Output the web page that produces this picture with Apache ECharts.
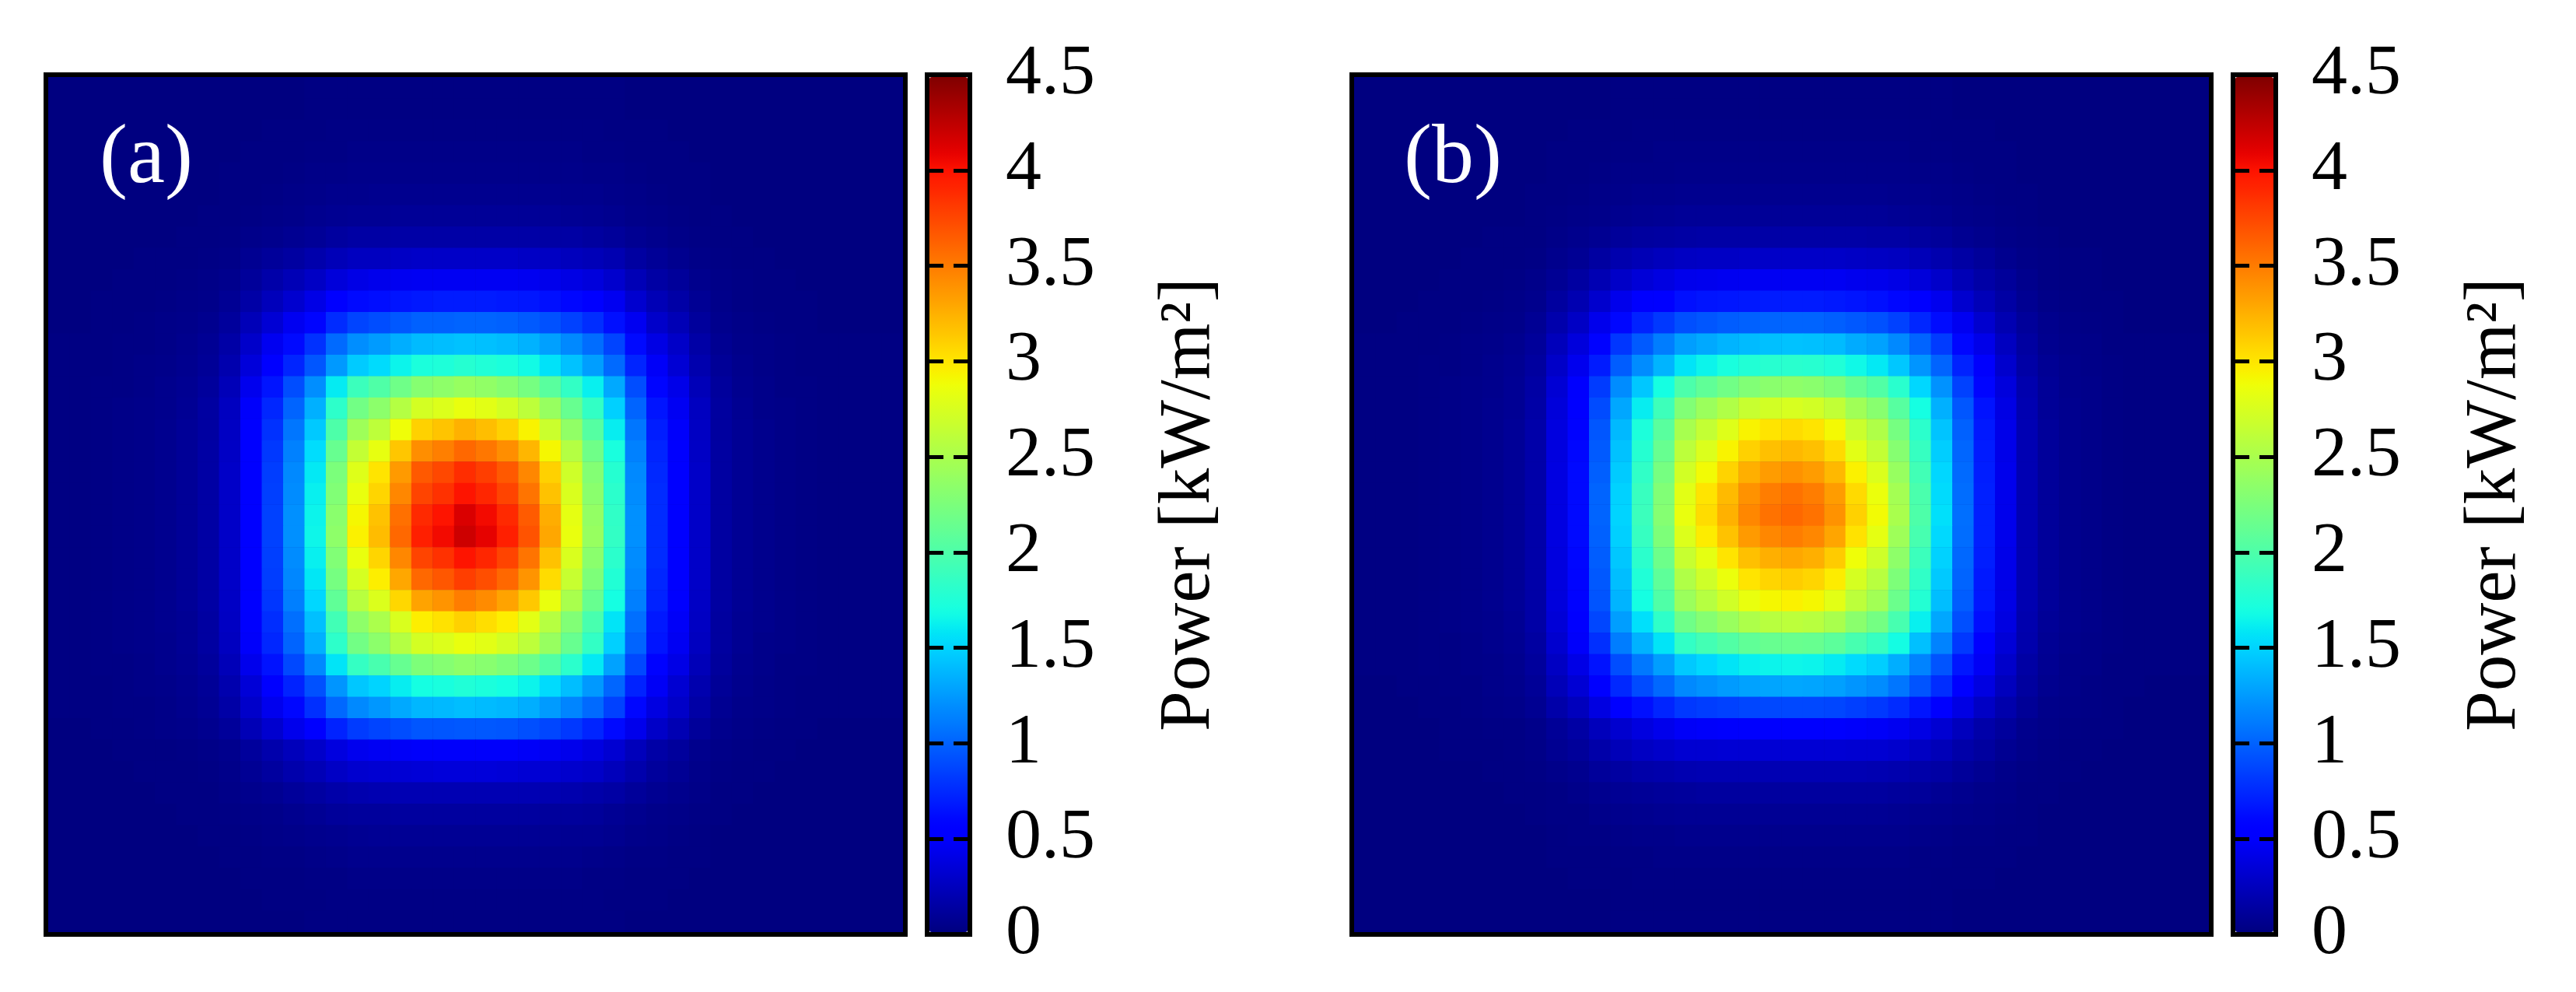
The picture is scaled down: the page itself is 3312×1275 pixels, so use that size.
<!DOCTYPE html>
<html><head><meta charset="utf-8">
<style>html,body{margin:0;padding:0;background:#fff}#c{width:3312px;height:1275px}</style>
<script src="https://cdn.jsdelivr.net/npm/echarts@6/dist/echarts.min.js"></script>
</head><body><div id="c"></div>
<script>
// Power, in hundredths of kW/m2; rows run top to bottom, columns left to right.
const powerA = [
[0,0,0,0,0,0,0,0,0,0,0,0,1,1,1,1,1,1,1,1,1,1,1,1,1,1,1,0,0,0,0,0,0,0,0,0,0,0,0,0],
[0,0,0,0,0,0,0,0,0,0,0,0,1,1,1,1,1,1,1,1,1,1,1,1,1,1,1,0,0,0,0,0,0,0,0,0,0,0,0,0],
[0,0,0,0,0,0,0,0,0,0,1,1,1,2,2,2,2,2,2,2,2,2,2,2,2,2,1,1,1,0,0,0,0,0,0,0,0,0,0,0],
[0,0,0,0,0,0,0,0,0,1,1,1,2,2,3,3,3,3,3,3,3,3,3,3,3,2,2,1,1,1,0,0,0,0,0,0,0,0,0,0],
[0,0,0,0,0,0,0,0,1,1,1,2,3,3,4,4,4,4,4,4,4,4,4,4,4,3,3,2,1,1,1,0,0,0,0,0,0,0,0,0],
[0,0,0,0,0,0,0,0,1,1,2,3,4,5,5,6,6,6,6,6,6,6,6,6,5,5,4,3,2,1,1,0,0,0,0,0,0,0,0,0],
[0,0,0,0,0,0,0,1,1,2,3,4,6,7,8,8,9,9,9,9,9,9,9,9,8,7,6,4,3,2,1,1,0,0,0,0,0,0,0,0],
[0,0,0,0,0,0,1,1,2,4,5,7,9,12,14,14,15,15,15,15,15,15,15,14,14,12,10,7,5,3,2,1,1,0,0,0,0,0,0,0],
[0,0,0,0,1,1,1,2,3,7,10,13,17,22,25,25,27,28,28,28,28,28,27,26,24,22,19,13,9,6,3,2,1,1,0,0,0,0,0,0],
[0,0,0,1,1,1,2,3,5,10,16,21,27,35,40,42,44,45,45,45,45,45,44,42,39,36,30,21,14,10,5,3,2,1,1,0,0,0,0,0],
[0,0,1,1,1,2,3,4,8,15,23,31,40,52,60,62,65,67,68,68,68,67,66,63,59,53,44,31,21,15,8,4,2,1,1,1,0,0,0,0],
[0,0,1,1,2,3,4,6,11,22,33,44,58,75,86,90,95,99,99,100,100,99,96,92,85,76,63,44,29,21,11,5,3,2,1,1,0,0,0,0],
[1,1,1,2,2,3,5,8,15,29,44,60,78,103,119,125,133,139,140,142,141,139,135,127,117,104,86,60,39,28,15,7,4,3,2,1,1,1,1,1],
[1,1,1,2,3,4,6,9,18,35,52,72,94,124,146,153,164,172,174,178,175,172,167,156,142,126,103,72,47,33,18,9,5,3,2,1,1,1,1,1],
[1,1,2,2,3,5,7,11,22,43,65,90,119,160,190,201,218,231,235,240,237,231,222,206,185,162,131,90,58,41,22,11,6,4,2,2,1,1,1,1],
[1,1,2,3,4,5,8,13,25,48,73,100,134,182,220,234,256,273,278,285,281,273,261,240,214,185,148,100,65,45,25,12,7,4,3,2,1,1,1,1],
[1,1,2,3,4,6,9,13,26,51,78,108,145,200,244,261,288,310,316,325,319,310,294,268,237,204,161,108,69,48,26,12,8,5,3,2,1,1,1,1],
[1,1,2,3,4,6,9,14,27,53,81,113,154,214,264,284,315,342,349,360,353,342,323,292,256,218,171,113,72,50,27,13,8,5,3,2,1,1,1,1],
[1,1,2,3,4,6,9,14,28,54,83,117,159,225,279,301,336,367,375,388,380,367,345,310,270,229,178,117,74,51,28,13,8,5,3,2,1,1,1,1],
[1,1,2,3,4,6,9,14,28,55,84,118,162,228,285,308,345,377,386,400,391,377,354,317,276,233,181,118,75,52,28,13,8,5,3,2,1,1,1,1],
[1,1,2,3,4,6,9,14,28,55,85,120,164,233,292,317,356,390,400,415,405,390,366,327,283,238,184,120,75,52,28,13,8,5,3,2,1,1,1,1],
[1,1,2,3,4,6,9,14,28,55,85,120,165,235,295,320,360,395,405,420,410,395,370,330,285,240,185,120,75,52,28,13,8,5,3,2,1,1,1,1],
[1,1,2,3,4,6,9,14,28,55,84,118,162,228,285,308,345,377,386,400,391,377,354,317,276,233,181,118,75,52,28,13,8,5,3,2,1,1,1,1],
[1,1,2,3,4,6,9,14,28,54,83,116,158,222,274,296,330,360,368,380,372,360,339,305,266,226,176,116,73,51,28,13,8,5,3,2,1,1,1,1],
[1,1,2,3,4,6,9,14,27,52,80,112,151,210,258,277,307,332,339,350,343,332,314,285,250,214,169,112,71,50,27,13,8,5,3,2,1,1,1,1],
[1,1,2,3,4,6,8,13,26,50,76,105,141,193,235,251,276,296,302,310,304,296,282,257,228,197,157,105,67,47,26,12,7,5,3,2,1,1,1,1],
[1,1,2,3,4,5,8,13,25,48,73,100,134,182,220,234,256,273,278,285,281,273,261,240,214,185,148,100,65,45,25,12,7,4,3,2,1,1,1,1],
[1,1,2,2,3,5,7,11,22,42,64,88,117,157,186,197,213,226,230,235,232,226,217,202,181,159,128,88,57,40,22,11,6,4,2,2,1,1,1,1],
[1,1,1,2,3,4,6,9,18,34,51,71,92,122,144,150,161,169,171,175,172,169,164,153,140,124,101,71,46,32,18,9,5,3,2,1,1,1,1,1],
[1,1,1,2,2,3,5,8,15,29,43,59,77,102,117,123,131,137,138,140,139,137,133,125,115,103,85,59,38,28,15,7,4,3,2,1,1,1,1,1],
[0,0,1,1,2,3,4,6,10,21,31,42,55,71,82,86,90,94,94,95,95,94,91,87,81,72,60,42,28,20,10,5,3,2,1,1,0,0,0,0],
[0,0,0,1,1,1,2,3,5,11,17,23,29,37,43,45,47,48,48,48,48,48,47,45,42,38,32,23,15,11,5,3,2,1,1,0,0,0,0,0],
[0,0,0,0,1,1,1,2,4,8,12,17,21,27,31,32,33,34,35,35,35,34,33,32,30,28,23,17,11,8,4,2,1,1,0,0,0,0,0,0],
[0,0,0,0,0,1,1,1,3,5,7,10,13,16,18,19,20,20,20,20,20,20,20,19,18,16,14,10,7,5,3,1,1,0,0,0,0,0,0,0],
[0,0,0,0,0,0,1,1,2,3,4,6,8,10,11,11,12,12,12,12,12,12,12,11,11,10,8,6,4,3,2,1,0,0,0,0,0,0,0,0],
[0,0,0,0,0,0,0,1,1,2,3,4,5,6,7,8,8,8,8,8,8,8,8,8,7,7,6,4,3,2,1,0,0,0,0,0,0,0,0,0],
[0,0,0,0,0,0,0,0,1,1,2,2,3,4,5,5,5,5,5,5,5,5,5,5,5,4,3,2,2,1,1,0,0,0,0,0,0,0,0,0],
[0,0,0,0,0,0,0,0,0,1,1,1,2,2,3,3,3,3,3,3,3,3,3,3,3,2,2,1,1,1,0,0,0,0,0,0,0,0,0,0],
[0,0,0,0,0,0,0,0,0,0,1,1,1,2,2,2,2,2,2,2,2,2,2,2,2,2,1,1,1,0,0,0,0,0,0,0,0,0,0,0],
[0,0,0,0,0,0,0,0,0,0,0,0,1,1,1,1,1,1,1,1,1,1,1,1,1,1,1,0,0,0,0,0,0,0,0,0,0,0,0,0]
];
const powerB = [
[0,0,0,0,0,0,0,0,0,0,0,0,1,1,1,1,1,1,1,1,1,1,1,1,1,1,1,1,0,0,0,0,0,0,0,0,0,0,0,0],
[0,0,0,0,0,0,0,0,0,0,0,0,1,1,1,1,1,1,1,1,1,1,1,1,1,1,1,1,0,0,0,0,0,0,0,0,0,0,0,0],
[0,0,0,0,0,0,0,0,0,0,1,1,1,2,2,2,2,2,2,2,2,2,2,2,2,2,2,1,1,1,0,0,0,0,0,0,0,0,0,0],
[0,0,0,0,0,0,0,0,0,1,1,1,2,2,3,3,3,3,3,3,3,3,3,3,3,3,2,2,1,1,1,0,0,0,0,0,0,0,0,0],
[0,0,0,0,0,0,0,0,0,1,1,2,3,3,3,4,4,4,4,4,4,4,4,4,4,4,3,3,2,1,1,0,0,0,0,0,0,0,0,0],
[0,0,0,0,0,0,0,0,1,1,2,3,4,5,5,6,6,6,6,6,6,6,6,6,6,5,5,4,3,2,1,1,0,0,0,0,0,0,0,0],
[0,0,0,0,0,0,0,0,1,2,3,4,6,7,8,9,9,9,9,9,9,9,9,9,9,8,7,6,4,3,2,1,0,0,0,0,0,0,0,0],
[0,0,0,0,0,0,1,1,1,3,5,7,10,12,13,14,15,15,15,15,15,15,15,15,14,14,12,10,7,5,3,2,1,0,0,0,0,0,0,0],
[0,0,0,0,0,1,1,1,2,5,8,13,18,21,24,26,27,27,28,28,28,28,28,27,26,25,22,18,14,10,6,3,2,1,1,0,0,0,0,0],
[0,0,0,0,1,1,1,2,4,8,13,20,28,34,38,42,43,44,45,45,45,45,45,43,42,40,35,29,21,15,10,5,2,1,1,0,0,0,0,0],
[0,0,0,1,1,1,2,3,5,12,19,30,42,50,56,63,65,66,67,68,68,68,67,65,63,59,51,43,31,22,14,7,3,2,1,1,0,0,0,0],
[0,0,1,1,1,2,3,4,8,17,27,42,59,71,81,91,94,97,99,100,100,100,98,95,92,85,73,61,44,31,19,10,5,3,2,1,0,0,0,0],
[1,1,1,1,2,3,4,6,10,23,36,57,80,96,111,126,131,136,139,141,142,141,139,132,128,117,100,82,59,41,25,13,6,4,3,1,1,1,1,1],
[1,1,1,2,2,3,5,7,12,28,43,68,97,118,136,157,164,171,176,179,180,179,175,166,159,144,122,100,71,49,30,15,8,5,3,2,1,1,1,1],
[1,1,1,2,3,4,5,8,14,33,50,82,118,144,169,199,210,219,228,233,235,233,226,212,202,180,151,121,85,58,36,18,9,5,4,2,1,1,1,1],
[1,1,1,2,3,4,6,8,15,35,55,89,130,161,191,228,242,254,266,272,275,272,263,245,232,205,169,134,94,64,39,19,9,6,4,2,1,1,1,1],
[1,1,1,2,3,4,6,9,16,37,57,94,138,173,206,249,264,279,294,301,305,301,291,268,253,222,181,143,99,67,41,20,10,6,4,2,1,1,1,1],
[1,1,1,2,3,4,6,9,16,37,59,96,142,178,214,260,277,294,310,318,322,318,306,281,264,231,187,147,101,68,41,20,10,6,4,2,1,1,1,1],
[1,1,1,2,3,4,6,9,16,38,60,98,146,184,222,272,290,309,326,335,340,335,322,295,277,240,193,151,103,69,42,20,10,6,4,2,1,1,1,1],
[1,1,1,2,3,4,6,9,16,38,60,100,149,188,228,281,301,321,340,350,355,350,335,306,286,247,198,153,104,70,42,20,10,6,4,2,1,1,1,1],
[1,1,1,2,3,4,6,9,16,38,60,100,150,190,230,285,305,325,345,355,360,355,340,310,290,250,200,155,105,70,42,20,10,6,4,2,1,1,1,1],
[1,1,1,2,3,4,6,9,16,38,60,99,148,187,226,278,297,317,336,345,350,345,331,302,283,244,196,152,104,70,42,20,10,6,4,2,1,1,1,1],
[1,1,1,2,3,4,6,9,16,37,59,97,144,181,217,266,283,301,318,326,330,326,313,288,270,235,190,149,102,69,41,20,10,6,4,2,1,1,1,1],
[1,1,1,2,3,4,6,9,16,37,58,95,140,175,209,254,270,286,301,308,312,308,297,274,258,226,184,145,100,67,41,20,10,6,4,2,1,1,1,1],
[1,1,1,2,3,4,6,9,15,36,57,93,136,169,201,242,257,271,285,292,295,292,281,260,246,216,177,140,97,66,40,19,10,6,4,2,1,1,1,1],
[1,1,1,2,3,4,5,8,15,34,53,87,126,155,183,218,230,241,252,258,260,258,250,233,221,196,162,130,91,62,38,18,9,6,4,2,1,1,1,1],
[1,1,1,2,2,3,5,7,13,31,48,77,111,135,157,185,194,202,210,214,215,214,208,196,187,168,141,114,81,55,34,17,8,5,3,2,1,1,1,1],
[1,1,1,2,2,3,4,6,11,26,40,64,90,109,126,145,151,157,162,164,165,164,160,153,147,133,114,93,66,46,29,14,7,4,3,1,1,1,1,1],
[0,0,1,1,2,2,4,5,9,22,33,53,74,89,102,117,121,125,128,129,130,129,127,122,118,108,93,76,55,38,24,12,6,4,2,1,1,0,0,0],
[0,0,0,1,1,2,3,4,7,16,24,38,53,63,72,81,83,85,87,88,88,88,87,84,81,75,65,54,39,27,17,9,4,3,2,1,0,0,0,0],
[0,0,0,0,1,1,2,2,4,9,14,23,31,37,42,47,48,49,50,50,50,50,50,48,47,44,39,32,24,16,11,5,3,2,1,1,0,0,0,0],
[0,0,0,0,1,1,1,2,3,7,10,16,22,26,29,32,32,33,33,33,33,33,33,32,32,30,26,22,16,12,7,4,2,1,1,0,0,0,0,0],
[0,0,0,0,0,0,1,1,2,4,6,10,13,16,17,19,20,20,20,20,20,20,20,20,19,18,16,14,10,7,4,2,1,1,0,0,0,0,0,0],
[0,0,0,0,0,0,0,1,1,2,4,6,8,9,10,11,12,12,12,12,12,12,12,12,12,11,10,8,6,4,3,1,1,0,0,0,0,0,0,0],
[0,0,0,0,0,0,0,0,1,2,2,4,5,6,7,8,8,8,8,8,8,8,8,8,8,7,6,5,4,3,2,1,0,0,0,0,0,0,0,0],
[0,0,0,0,0,0,0,0,0,1,2,2,3,4,4,5,5,5,5,5,5,5,5,5,5,5,4,3,2,2,1,1,0,0,0,0,0,0,0,0],
[0,0,0,0,0,0,0,0,0,1,1,1,2,2,3,3,3,3,3,3,3,3,3,3,3,3,2,2,1,1,1,0,0,0,0,0,0,0,0,0],
[0,0,0,0,0,0,0,0,0,0,1,1,1,2,2,2,2,2,2,2,2,2,2,2,2,2,2,1,1,1,0,0,0,0,0,0,0,0,0,0],
[0,0,0,0,0,0,0,0,0,0,0,0,1,1,1,1,1,1,1,1,1,1,1,1,1,1,1,1,0,0,0,0,0,0,0,0,0,0,0,0],
[0,0,0,0,0,0,0,0,0,0,0,0,1,1,1,1,1,1,1,1,1,1,1,1,1,1,1,1,0,0,0,0,0,0,0,0,0,0,0,0]
];
const panelLabels = ['(a)', '(b)'];
const colorbarMin = 0, colorbarMax = 4.5, colorbarStep = 0.5;
const colorbarTitle = 'Power [kW/m²]';

const FONT = '"Liberation Serif","DejaVu Serif",serif';
function jet(t){
  const c = x => Math.round(255*Math.max(0,Math.min(1,x)));
  const r = t<.35?0:t<.66?(t-.35)/.31:t<.89?1:1-(t-.89)/.11*.5;
  const g = t<.125?0:t<.375?(t-.125)/.25:t<.64?1:t<.91?1-(t-.64)/.27:0;
  const b = t<.11?.5+t/.11*.5:t<.34?1:t<.65?1-(t-.34)/.31:0;
  return `rgb(${c(r)},${c(g)},${c(b)})`;
}
const jetColors = Array.from({length:129},(_,i)=>jet(i/128));

const panels = [
  {rows:powerA, left:59,   cb:1192, lab:128},
  {rows:powerB, left:1738, cb:2871, lab:1805}
];
const TOP=96, SIZE=1105, CBW=55, LW=6;
const grid=[],xAxis=[],yAxis=[],series=[],visualMap=[],title=[];
panels.forEach((p,k)=>{
  const n=p.rows.length, m=p.rows[0].length;
  const cats=c=>Array.from({length:c},(_,i)=>i);
  grid.push({left:p.left+LW/2,top:TOP+LW/2,width:SIZE-LW,height:SIZE-LW,backgroundColor:'#000080',show:true,borderWidth:0});
  let gi=grid.length-1;
  xAxis.push({gridIndex:gi,type:'category',data:cats(m),show:false});
  yAxis.push({gridIndex:gi,type:'category',data:cats(n),inverse:true,show:false});
  const data=[];
  p.rows.forEach((row,j)=>row.forEach((v,i)=>data.push([i,j,v/100])));
  series.push({type:'heatmap',xAxisIndex:xAxis.length-1,yAxisIndex:yAxis.length-1,data,progressive:0,animation:false,silent:true,emphasis:{disabled:true},itemStyle:{borderWidth:0}});
  visualMap.push({type:'continuous',seriesIndex:series.length-1,min:colorbarMin,max:colorbarMax,
    left:p.cb+LW/2,top:TOP+LW/2,itemWidth:CBW-LW,itemHeight:SIZE-LW,padding:0,calculable:false,realtime:false,hoverLink:false,
    text:null,showLabel:false,inRange:{color:jetColors},z:2,textStyle:{fontSize:1,color:'rgba(0,0,0,0)'},borderWidth:0});
  grid.push({left:p.left,top:TOP,width:SIZE,height:SIZE,show:true,borderWidth:LW,borderColor:'#000',backgroundColor:'transparent',z:10});
  grid.push({left:p.cb,top:TOP,width:CBW,height:SIZE,show:true,borderWidth:LW,borderColor:'#000',backgroundColor:'transparent',z:10});
  gi=grid.length-1;
  xAxis.push({gridIndex:gi,type:'value',show:false,min:0,max:1});
  const base={gridIndex:gi,type:'value',min:colorbarMin,max:colorbarMax,interval:colorbarStep,z:11,splitLine:{show:false},axisLine:{show:false}};
  yAxis.push(Object.assign({},base,{position:'left',axisLabel:{show:false},axisTick:{show:true,inside:true,length:21,lineStyle:{width:5,color:'#000'}}}));
  yAxis.push(Object.assign({},base,{position:'right',
    axisTick:{show:true,inside:true,length:21,lineStyle:{width:5,color:'#000'}},
    axisLabel:{show:true,inside:false,margin:46,align:'left',color:'#000',fontFamily:FONT,fontSize:92,formatter:v=>String(v),verticalAlign:'middle',lineHeight:92,padding:[0,0,12,0],hideOverlap:false,showMinLabel:true,showMaxLabel:true},
    name:colorbarTitle,nameLocation:'middle',nameRotate:90,nameGap:236,nameTextStyle:{color:'#000',fontFamily:FONT,fontSize:93}}));
  title.push({text:panelLabels[k],left:p.lab,top:152,padding:0,textStyle:{color:'#fff',fontFamily:FONT,fontSize:108,fontWeight:'normal'},z:12});
});
const chart=echarts.init(document.getElementById('c'),null,{renderer:'canvas'});
chart.setOption({animation:false,backgroundColor:'#fff',title,grid,xAxis,yAxis,visualMap,series});
</script></body></html>
